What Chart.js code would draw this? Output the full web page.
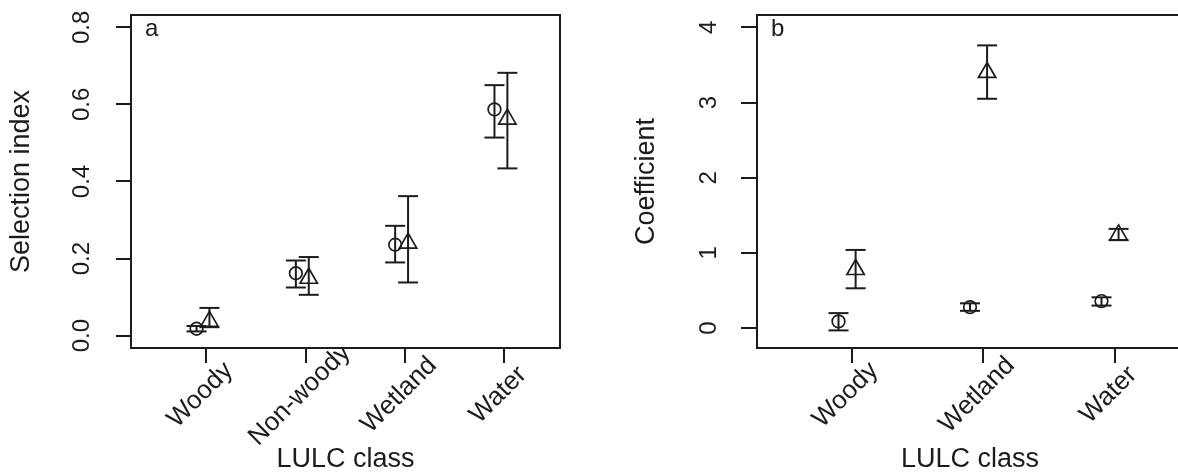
<!DOCTYPE html>
<html><head><meta charset="utf-8">
<script src="https://cdn.jsdelivr.net/npm/chart.js@4/dist/chart.umd.min.js"></script>
<style>
html,body{margin:0;padding:0;background:#fff;overflow:hidden;width:1178px;height:476px;position:relative;}
#ca{position:absolute;left:0;top:0;}
#cb{position:absolute;left:620px;top:0;}
</style></head><body>
<canvas id="ca" width="590" height="476"></canvas>
<canvas id="cb" width="600" height="476"></canvas>
<script>
// ---- Panel a data ----
const categoriesA = ['Woody', 'Non-woody', 'Wetland', 'Water'];
const circleA = [0.018, 0.162, 0.236, 0.587];
const circleLowA = [0.011, 0.125, 0.190, 0.514];
const circleHighA = [0.025, 0.195, 0.285, 0.650];
const triangleA = [0.037, 0.149, 0.240, 0.562];
const triangleLowA = [0.022, 0.106, 0.138, 0.434];
const triangleHighA = [0.072, 0.204, 0.362, 0.682];
const yTicksA = [0, 0.2, 0.4, 0.6, 0.8];

// ---- Panel b data ----
const categoriesB = ['Woody', 'Wetland', 'Water'];
const circleB = [0.09, 0.28, 0.36];
const circleLowB = [-0.03, 0.23, 0.30];
const circleHighB = [0.20, 0.33, 0.41];
const triangleB = [0.78, 3.40, 1.24];
const triangleLowB = [0.53, 3.05, 1.17];
const triangleHighB = [1.04, 3.76, 1.32];
const yTicksB = [0, 1, 2, 3, 4];

// ---- style constants ----
const FONT = "'Liberation Sans', Arial, Helvetica, sans-serif";
const INK = '#1c1c1c';
const CIRCLE_DX = -0.10;
const TRIANGLE_DX = 0.03;

const framePlugin = {
  id: 'frame',
  afterDraw(chart) {
    const {ctx, chartArea: a} = chart;
    ctx.save();
    ctx.strokeStyle = INK;
    ctx.lineWidth = 2;
    ctx.strokeRect(a.left, a.top, a.right - a.left, a.bottom - a.top);
    const o = chart.options.plugins.panelLabel;
    if (o && o.text) {
      ctx.fillStyle = INK;
      ctx.font = '24px ' + FONT;
      ctx.textAlign = 'left';
      ctx.textBaseline = 'alphabetic';
      ctx.fillText(o.text, a.left + 14, a.top + 21);
    }
    ctx.restore();
  }
};

function whiskers(vals, lo, hi, dx) {
  const out = [];
  vals.forEach((v, i) => {
    out.push({x: i + 1 + dx, y: lo[i]});
    out.push({x: i + 1 + dx, y: hi[i]});
    out.push({x: i + 1 + dx, y: null});
  });
  return out;
}
function caps(vals, lo, hi, dx) {
  const out = [];
  vals.forEach((v, i) => {
    out.push({x: i + 1 + dx, y: lo[i]});
    out.push({x: i + 1 + dx, y: hi[i]});
  });
  return out;
}
function pts(vals, dx) {
  return vals.map((v, i) => ({x: i + 1 + dx, y: v}));
}

function makeChart(id, cfg) {
  const datasets = [
    {type: 'line', data: whiskers(cfg.circle, cfg.circleLow, cfg.circleHigh, CIRCLE_DX), showLine: true,
     borderColor: INK, borderWidth: 2, pointRadius: 0, spanGaps: false},
    {type: 'line', data: whiskers(cfg.triangle, cfg.triangleLow, cfg.triangleHigh, TRIANGLE_DX), showLine: true,
     borderColor: INK, borderWidth: 2, pointRadius: 0, spanGaps: false},
    {data: caps(cfg.circle, cfg.circleLow, cfg.circleHigh, CIRCLE_DX), pointStyle: 'line', pointRadius: 10,
     borderColor: INK, pointBorderWidth: 2},
    {data: caps(cfg.triangle, cfg.triangleLow, cfg.triangleHigh, TRIANGLE_DX), pointStyle: 'line', pointRadius: 10,
     borderColor: INK, pointBorderWidth: 2},
    {data: pts(cfg.circle, CIRCLE_DX), pointStyle: 'circle', pointRadius: 6.3, pointBorderWidth: 1.7,
     borderColor: INK, backgroundColor: 'rgba(0,0,0,0)'},
    {data: pts(cfg.triangle, TRIANGLE_DX), pointStyle: 'triangle', pointRadius: 10, pointBorderWidth: 1.7,
     borderColor: INK, backgroundColor: 'rgba(0,0,0,0)'}
  ];
  return new Chart(document.getElementById(id), {
    type: 'scatter',
    data: {datasets},
    plugins: [framePlugin],
    options: {
      responsive: false, animation: false, events: [], devicePixelRatio: 1,
      layout: {padding: {top: 15, right: cfg.padRight, left: 0, bottom: 0}},
      plugins: {legend: {display: false}, tooltip: {enabled: false}, panelLabel: {text: cfg.label}},
      scales: {
        x: {
          type: 'linear', position: 'bottom', min: cfg.xMin, max: cfg.xMax,
          afterBuildTicks: s => { s.ticks = cfg.categories.map((c, i) => ({value: i + 1})); s._getXAxisLabelAlignment = () => 'center'; },
          afterFit: s => { s.height = 128; s.paddingLeft = 0; s.paddingRight = 0; },
          grid: {display: true, drawOnChartArea: false, drawTicks: true, tickLength: 15, color: INK, lineWidth: 2},
          border: {display: false},
          ticks: {callback: (v, i) => cfg.categories[i], font: {family: FONT, size: 26}, color: INK,
                  minRotation: 45, maxRotation: 45, autoSkip: false, padding: 21, labelOffset: -6},
          title: {display: true, text: 'LULC class', font: {family: FONT, size: 27}, color: INK, padding: {top: 0, bottom: 0}}
        },
        y: {
          type: 'linear', position: 'left', min: cfg.yMin, max: cfg.yMax,
          afterBuildTicks: s => { s.ticks = cfg.yTicks.map(v => ({value: v})); },
          afterFit: s => { s.width = cfg.yWidth; s.paddingTop = 0; s.paddingBottom = 0; },
          grid: {display: true, drawOnChartArea: false, drawTicks: true, tickLength: cfg.tickLen, color: INK, lineWidth: 2},
          border: {display: false},
          ticks: {callback: cfg.fmt, font: {family: FONT, size: 24}, color: INK,
                  minRotation: 90, maxRotation: 90, crossAlign: 'center', padding: cfg.yPad},
          title: {display: true, text: cfg.yTitle, font: {family: FONT, size: 27}, color: INK, padding: {top: cfg.yTitlePad, bottom: 0}}
        }
      }
    }
  });
}

makeChart('ca', {
  categories: categoriesA, circle: circleA, circleLow: circleLowA, circleHigh: circleHighA,
  triangle: triangleA, triangleLow: triangleLowA, triangleHigh: triangleHighA, yTicks: yTicksA,
  xMin: 0.24, xMax: 4.56, yMin: -0.032, yMax: 0.832, padRight: 30, yWidth: 131, tickLen: 15, yPad: 17,
  yTitle: 'Selection index', yTitlePad: 5, label: 'a', fmt: v => Number(v).toFixed(1)
});
makeChart('cb', {
  categories: categoriesB, circle: circleB, circleLow: circleLowB, circleHigh: circleHighB,
  triangle: triangleB, triangleLow: triangleLowB, triangleHigh: triangleHighB, yTicks: yTicksB,
  xMin: 0.28, xMax: 3.52, yMin: -0.264, yMax: 4.164, padRight: 37, yWidth: 137, tickLen: 16, yPad: 25,
  yTitle: 'Coefficient', yTitlePad: 10, label: 'b', fmt: v => String(v)
});
</script>
</body></html>
